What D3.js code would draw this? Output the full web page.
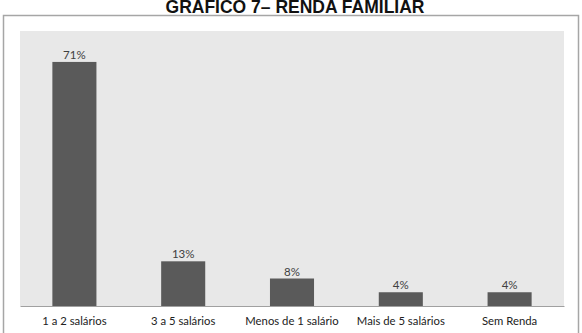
<!DOCTYPE html>
<html><head><meta charset="utf-8">
<script src="https://cdn.jsdelivr.net/npm/d3@7"></script>
<style>html,body{margin:0;padding:0;background:#fff;}svg{display:block;}</style>
</head><body>
<svg id="chart" width="582" height="333"></svg>
<script>
const categories = ["1 a 2 salários", "3 a 5 salários", "Menos de 1 salário", "Mais de 5 salários", "Sem Renda"];
const values = [71, 13, 8, 4, 4];
const valueLabels = ["71%", "13%", "8%", "4%", "4%"];
const title = "GRÁFICO 7– RENDA FAMILIAR";

const svg = d3.select("#chart");
const plot = {left: 20, right: 564, top: 31, bottom: 306};

// outer box
svg.append("rect").attr("x", 3.5).attr("y", 15.5).attr("width", 575).attr("height", 330)
  .attr("fill", "#fff").attr("stroke", "#a6a6a6").attr("stroke-width", 1.5);

// title
svg.append("text").attr("x", 295).attr("y", 13).attr("text-anchor", "middle")
  .attr("font-family", "Liberation Sans, Arial, sans-serif").attr("font-weight", "bold")
  .attr("font-size", 17.5).attr("fill", "#111").text(title);

// plot background
svg.append("rect").attr("x", plot.left).attr("y", plot.top)
  .attr("width", plot.right - plot.left).attr("height", plot.bottom - plot.top).attr("fill", "#e8e8e8");

const x = d3.scaleBand().domain(categories).range([plot.left, plot.right]).paddingInner(0.595).paddingOuter(0.2975);
const y = d3.scaleLinear().domain([0, 80]).range([plot.bottom, plot.top]);

svg.append("g").selectAll("rect").data(values).join("rect")
  .attr("x", (d, i) => x(categories[i])).attr("width", x.bandwidth())
  .attr("y", d => y(d)).attr("height", d => y(0) - y(d)).attr("fill", "#5a5a5a");

svg.append("g").selectAll("text").data(values).join("text")
  .attr("x", (d, i) => x(categories[i]) + x.bandwidth() / 2).attr("y", d => y(d) - 3)
  .attr("text-anchor", "middle").attr("font-family", "Lato, sans-serif").attr("font-size", 11.5)
  .attr("fill", "#404040").text((d, i) => valueLabels[i]);

const axis = svg.append("g").attr("transform", `translate(0,${plot.bottom})`)
  .call(d3.axisBottom(x).tickSize(0).tickPadding(11));
axis.select(".domain").attr("stroke", "#a0a0a0").attr("stroke-width", 1);
axis.selectAll("text").attr("font-family", "Lato, sans-serif").attr("font-size", 11.3).attr("fill", "#222");
</script>
</body></html>
